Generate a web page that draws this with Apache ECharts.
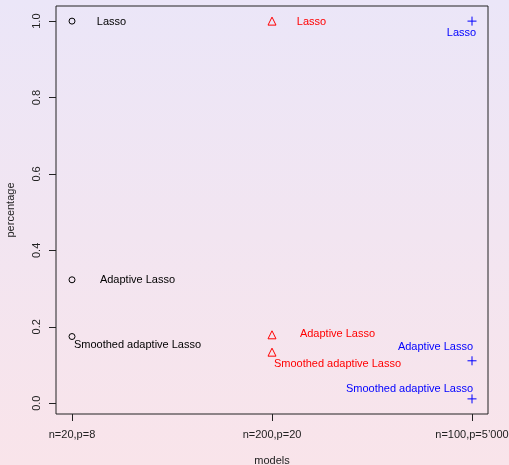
<!DOCTYPE html>
<html><head><meta charset="utf-8">
<script src="https://cdn.jsdelivr.net/npm/echarts@6/dist/echarts.min.js"></script>
<style>
html,body{margin:0;padding:0;}
#c{width:509px;height:465px;background:linear-gradient(to bottom,#ebe6f8 0%,#f9e4ea 100%);}
</style></head>
<body><div id="c"></div>
<script>
var categories = ['n=20,p=8', 'n=200,p=20', 'n=100,p=5\u2019000'];
var methods = ['Lasso', 'Adaptive Lasso', 'Smoothed adaptive Lasso'];
var modelIndex = [1, 2, 3];
var valuesSmall = [1.0, 0.323, 0.1745];   // n=20,p=8
var valuesMedium = [1.0, 0.179, 0.1336];  // n=200,p=20
var valuesLarge = [1.0, 0.111, 0.0113];   // n=100,p=5'000
var yTicks = [0, 0.2, 0.4, 0.6, 0.8, 1.0];

var FONT = '"Liberation Sans", Arial, Helvetica, sans-serif';
var labelOffsets = [
  [[39.5, 0.6], [65.5, 0], [65.5, 8.6]],
  [[39.5, 0.6], [65.5, -1], [65.5, 11.7]],
  [[-10.5, 11.6], [-36.5, -13.7], [-62.5, -9.7]]
];
var colors = ['#000000', '#ff0000', '#0000ff'];
var symbols = ['circle', 'triangle', 'path://M5,0 L5,10 M0,5 L10,5'];
var sizes = [6, 8, 9];
var allValues = [valuesSmall, valuesMedium, valuesLarge];

var allY = [].concat(valuesSmall, valuesMedium, valuesLarge);
var yMinD = Math.min.apply(null, allY), yMaxD = Math.max.apply(null, allY);
var yPad = (yMaxD - yMinD) * 0.04;
var xPad = (modelIndex[2] - modelIndex[0]) * 0.04;

function mkSeries(k) {
  return {
    type: 'scatter',
    symbol: symbols[k],
    symbolSize: sizes[k],
    symbolKeepAspect: true,
    itemStyle: {
      color: 'rgba(0,0,0,0)',
      borderColor: colors[k],
      borderWidth: 1,
      opacity: 1
    },
    data: allValues[k].map(function (v, i) {
      return {
        value: [modelIndex[k], v],
        label: {
          show: true,
          formatter: methods[i],
          position: 'inside',
          offset: labelOffsets[k][i],
          color: colors[k],
          fontFamily: FONT,
          fontSize: 11
        }
      };
    }),
    emphasis: { disabled: true },
    animation: false
  };
}

var chart = echarts.init(document.getElementById('c'), null, { renderer: 'canvas' });
chart.setOption({
  backgroundColor: 'transparent',
  animation: false,
  grid: { left: 56, right: 21, top: 6, bottom: 51, show: true, borderColor: '#222', borderWidth: 1, backgroundColor: 'transparent', outerBoundsMode: 'none', containLabel: false },
  xAxis: {
    type: 'value',
    min: modelIndex[0] - xPad,
    max: modelIndex[2] + xPad,
    name: 'models',
    nameLocation: 'middle',
    nameGap: 41,
    nameTextStyle: { fontFamily: FONT, fontSize: 11, color: '#222' },
    axisLine: { show: false, onZero: false },
    splitLine: { show: false },
    axisTick: { show: true, inside: false, length: 7, lineStyle: { color: '#222' }, customValues: modelIndex },
    axisLabel: {
      customValues: modelIndex,
      formatter: function (v) { return categories[Math.round(v) - 1]; },
      fontFamily: FONT, fontSize: 11, color: '#222', margin: 15
    }
  },
  yAxis: {
    type: 'value',
    min: yMinD - yPad,
    max: yMaxD + yPad,
    name: 'percentage',
    nameLocation: 'middle',
    nameRotate: 90,
    nameGap: 40,
    nameTextStyle: { fontFamily: FONT, fontSize: 11, color: '#222' },
    axisLine: { show: false, onZero: false },
    splitLine: { show: false },
    axisTick: { show: true, inside: false, length: 7, lineStyle: { color: '#222' }, customValues: yTicks },
    axisLabel: {
      customValues: yTicks,
      rotate: 90,
      formatter: function (v) { return v.toFixed(1); },
      fontFamily: FONT, fontSize: 11, color: '#222', margin: 14
    }
  },
  series: [mkSeries(0), mkSeries(1), mkSeries(2)]
});
</script></body></html>
